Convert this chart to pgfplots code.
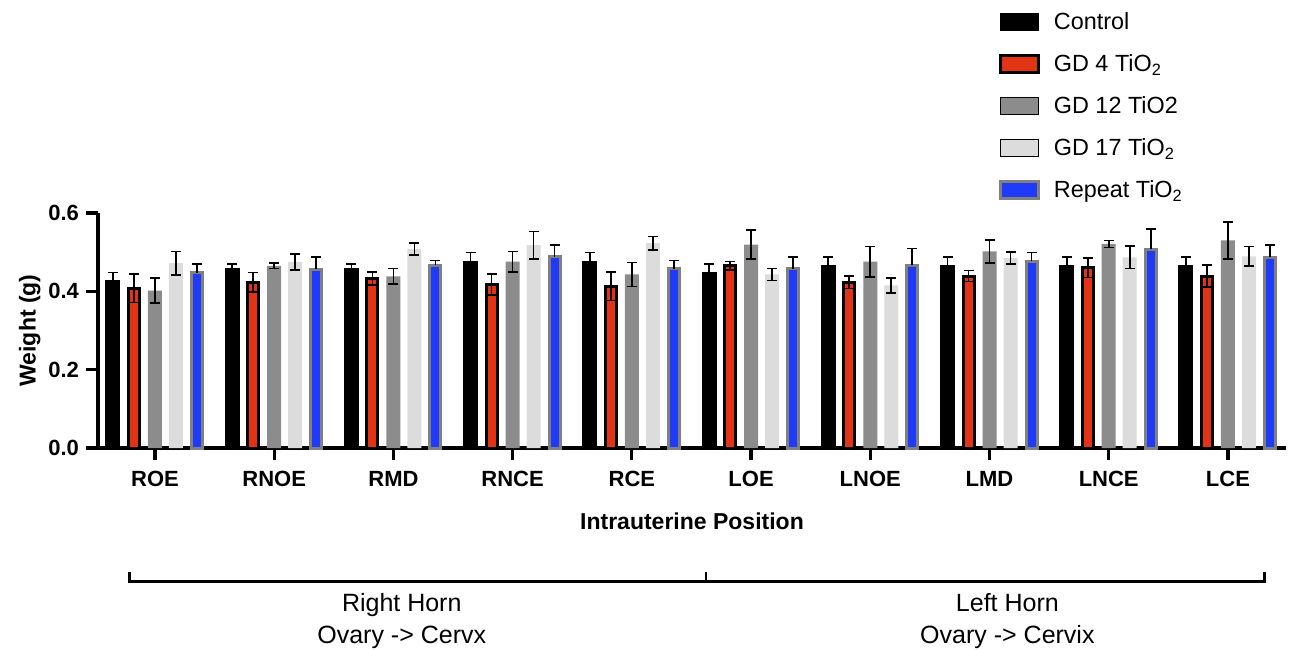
\documentclass[border=0pt]{standalone}
\usepackage{fontspec}
\setmainfont{Liberation Sans}
\usepackage{pgfplots}
\usepackage{pgfplotstable}
\usetikzlibrary{calc}
\pgfplotsset{compat=1.18}
\definecolor{cred}{RGB}{226,52,20}
\definecolor{cblue}{RGB}{32,58,250}
\definecolor{cgray}{RGB}{140,140,140}
\definecolor{clight}{RGB}{220,220,220}
\definecolor{cborder}{RGB}{128,128,128}
\pgfplotstableread{
x ctl ctle gd4 gd4e gd12 gd12e gd17 gd17e rep repe
0 0.427 0.021 0.408 0.037 0.402 0.032 0.472 0.030 0.448 0.022
1 0.458 0.012 0.423 0.025 0.465 0.007 0.475 0.021 0.457 0.031
2 0.458 0.012 0.433 0.017 0.438 0.020 0.508 0.015 0.467 0.012
3 0.477 0.022 0.418 0.027 0.476 0.026 0.518 0.035 0.488 0.031
4 0.477 0.022 0.413 0.036 0.443 0.031 0.523 0.017 0.458 0.021
5 0.448 0.022 0.465 0.011 0.519 0.037 0.443 0.015 0.458 0.030
6 0.467 0.021 0.423 0.016 0.476 0.039 0.415 0.019 0.467 0.042
7 0.467 0.021 0.439 0.014 0.502 0.029 0.485 0.015 0.477 0.022
8 0.467 0.021 0.460 0.025 0.521 0.009 0.487 0.029 0.508 0.051
9 0.467 0.021 0.439 0.028 0.530 0.047 0.489 0.025 0.487 0.031
}\datatab
\begin{document}
\begin{tikzpicture}
\begin{axis}[
  name=ax,
  scale only axis,
  width=594pt, height=117.5pt,
  xmin=-0.478, xmax=9.487,
  ymin=0, ymax=0.6,
  axis lines*=left,
  axis line style={line width=2pt,-},
  tick style={line width=1.6pt,black},
  tick align=outside,
  major tick length=6pt,
  xtick={0,...,9},
  xticklabels={ROE,RNOE,RMD,RNCE,RCE,LOE,LNOE,LMD,LNCE,LCE},
  ytick={0,0.2,0.4,0.6},
  minor tick num=0,
  /pgf/number format/assume math mode=true,
  yticklabel style={/pgf/number format/.cd,fixed,fixed zerofill,precision=1},
  xticklabel style={yshift=-2pt},
  ticklabel style={font=\bfseries\fontsize{11}{13}\selectfont},
  xlabel={Intrauterine Position},
  ylabel={Weight (g)},
  xlabel style={font=\bfseries\fontsize{11.5}{13}\selectfont,yshift=-6pt},
  ylabel style={font=\bfseries\fontsize{11.5}{13}\selectfont,yshift=-3pt},
  clip=false,
  ybar,
  bar width=7pt,
  error bars/y dir=both,
  error bars/y explicit,
  error bars/error bar style={line width=0.8pt,black},
  error bars/error mark=-,
  error bars/error mark options={rotate=90,line width=0.8pt,black,mark size=2.5pt},
  legend style={at={(0.758,1.87)},anchor=north west,draw=none,fill=none,
    inner sep=0pt,row sep=7pt,
    font=\fontsize{11.7}{13}\selectfont,
    /tikz/every odd column/.append style={column sep=5pt}},
  legend cell align=left,
  legend image code/.code={\draw[#1,/tikz/.cd] (0pt,-4pt) rectangle (19pt,4.5pt);},
]
\addplot[fill=black,draw=black,line width=0.5pt,bar shift=-21pt,error bars/y dir=plus]
  table[x=x,y=ctl,y error=ctle]{\datatab};
\addlegendentry{Control}
\addplot[fill=cred,draw=black,line width=1.5pt,bar width=5.5pt,bar shift=-10.5pt]
  table[x=x,y=gd4,y error=gd4e]{\datatab};
\addlegendentry{GD 4 TiO\textsubscript{2}}
\addplot[fill=cgray,draw=none,bar shift=0pt]
  table[x=x,y=gd12,y error=gd12e]{\datatab};
\addlegendentry{GD 12 TiO2}
\addplot[fill=clight,draw=none,bar shift=10.5pt]
  table[x=x,y=gd17,y error=gd17e]{\datatab};
\addlegendentry{GD 17 TiO\textsubscript{2}}
\addplot[fill=cblue,draw=cborder,line width=1.5pt,bar width=5.5pt,bar shift=21pt,error bars/y dir=plus]
  table[x=x,y=rep,y error=repe]{\datatab};
\addlegendentry{Repeat TiO\textsubscript{2}}
% bracket
\draw[line width=1.5pt] (axis cs:-0.21,-0.3176) -- (axis cs:-0.21,-0.3406) -- (axis cs:9.31,-0.3406) -- (axis cs:9.31,-0.3176);
\draw[line width=1.2pt] (axis cs:4.62,-0.3406) -- (axis cs:4.62,-0.3176);
\node[align=center,font=\fontsize{12.5}{16}\selectfont] at (axis cs:2.07,-0.441) {Right Horn\\Ovary -> Cervx};
\node[align=center,font=\fontsize{12.5}{16}\selectfont] at (axis cs:7.15,-0.441) {Left Horn\\Ovary -> Cervix};
\end{axis}
\pgfresetboundingbox
\path ($(ax.south west)+(-49pt,-100.5pt)$) rectangle ($(ax.north east)+(2pt,106.5pt)$);
\end{tikzpicture}
\end{document}
